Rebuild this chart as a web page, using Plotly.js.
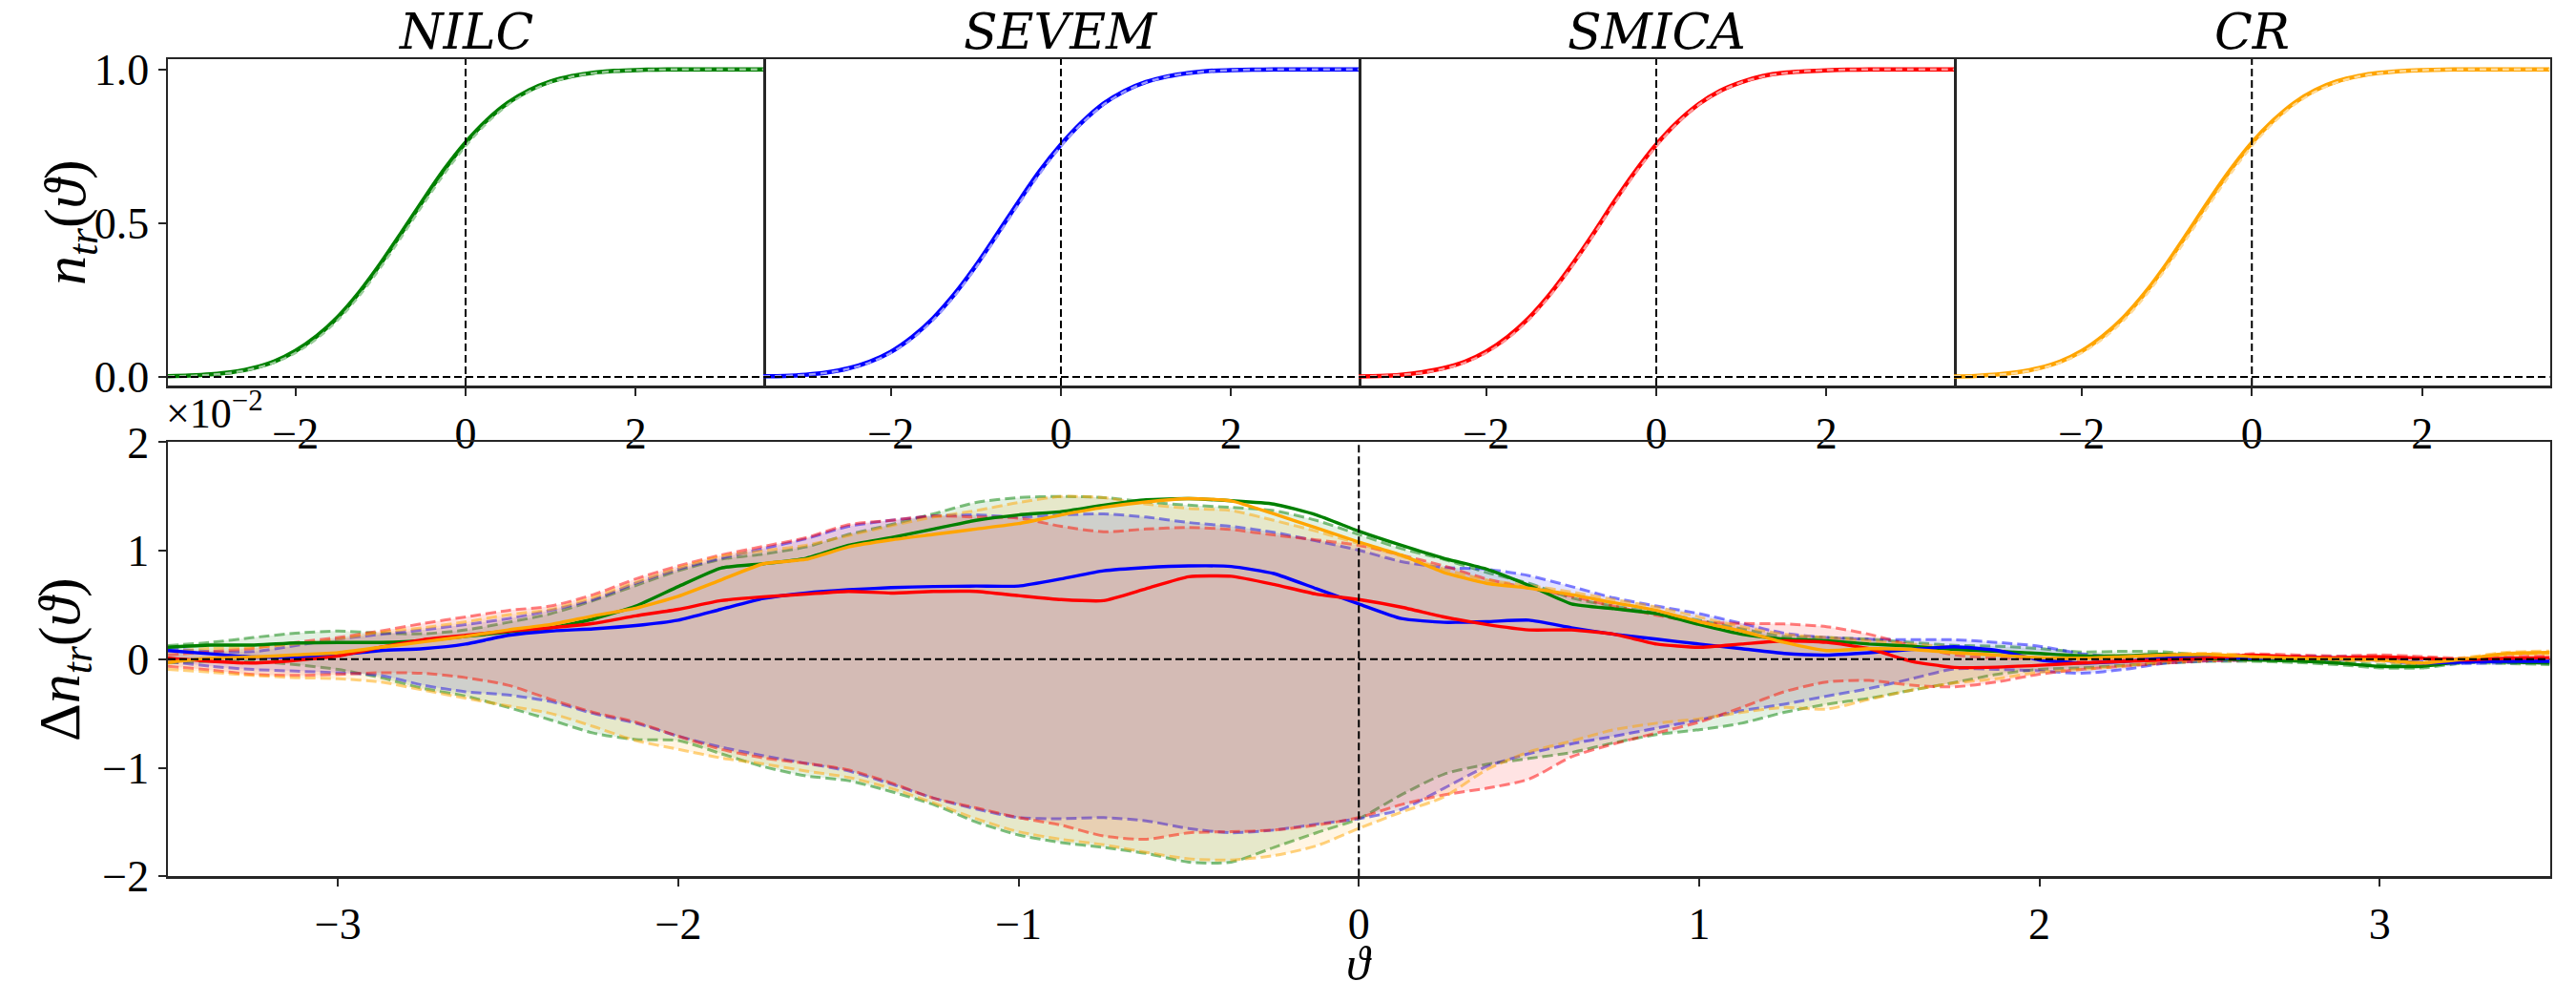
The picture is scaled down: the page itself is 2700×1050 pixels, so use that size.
<!DOCTYPE html>
<html>
<head>
<meta charset="utf-8">
<script src="https://cdn.plot.ly/plotly-3.0.1.min.js"></script>
<style>html,body{margin:0;padding:0;background:#fff;}#chart{width:2700px;height:1050px;}</style>
</head>
<body>
<div id="chart"></div>
<script>
// ---------- DATA ----------
const mapNames = ["NILC", "SEVEM", "SMICA", "CR"];
const mapColors = ["#008000", "#0000ff", "#ff0000", "#ffa500"];

// top panels: n_tr(theta)
const thetaTop = [-3.5,-3.25,-3,-2.75,-2.5,-2.25,-2,-1.75,-1.5,-1.25,-1,-0.75,-0.5,-0.25,0,0.25,0.5,0.75,1,1.25,1.5,1.75,2,2.25,2.5,2.75,3,3.25,3.5];
const ntrTheory = [0.0014,0.0032,0.0068,0.0137,0.026,0.0463,0.0778,0.1234,0.185,0.263,0.355,0.456,0.560,0.660,0.750,0.825,0.8846,0.9278,0.9574,0.9763,0.9876,0.9939,0.9972,0.9988,0.9995,0.9998,0.9999,1.0,1.0];
const ntrNILC  = [0.0025,0.0045,0.0084,0.0154,0.0285,0.0500,0.0845,0.1322,0.1955,0.2750,0.3683,0.4702,0.5742,0.6743,0.7618,0.8343,0.8914,0.9324,0.9606,0.9781,0.9890,0.9948,0.9977,0.9991,0.9996,0.9998,0.9999,1.0,1.0];
const ntrSEVEM = [0.0022,0.0034,0.0072,0.0147,0.0278,0.0491,0.0814,0.1290,0.1914,0.2697,0.3617,0.4642,0.5686,0.6686,0.7551,0.8284,0.8882,0.9301,0.9588,0.9768,0.9882,0.9950,0.9972,0.9988,0.9995,0.9998,0.9999,1.0,1.0];
const ntrSMICA = [0.0013,0.0028,0.0071,0.0155,0.0286,0.0496,0.0824,0.1292,0.1913,0.2693,0.3609,0.4614,0.5676,0.6669,0.7555,0.8289,0.8873,0.9301,0.9585,0.9780,0.9886,0.9932,0.9966,0.9986,0.9995,0.9998,0.9999,1.0,1.0];
const ntrCR    = [0.0011,0.0034,0.0074,0.0153,0.0286,0.0501,0.0836,0.1322,0.1954,0.2745,0.3675,0.4700,0.5748,0.6734,0.7608,0.8330,0.8912,0.9330,0.9609,0.9779,0.9886,0.9945,0.9974,0.9990,0.9999,0.9999,0.9999,1.0,1.0];

// bottom panel: Delta n_tr(theta) in units of 1e-2
const thetaBot = [-3.5,-3.375,-3.25,-3.125,-3,-2.875,-2.75,-2.625,-2.5,-2.375,-2.25,-2.125,-2,-1.875,-1.75,-1.625,-1.5,-1.375,-1.25,-1.125,-1,-0.875,-0.75,-0.625,-0.5,-0.375,-0.25,-0.125,0,0.125,0.25,0.375,0.5,0.625,0.75,0.875,1,1.125,1.25,1.375,1.5,1.625,1.75,1.875,2,2.125,2.25,2.375,2.5,2.625,2.75,2.875,3,3.125,3.25,3.375,3.5];

const dnNILC = [0.11,0.13,0.13,0.15,0.155,0.155,0.17,0.21,0.25,0.29,0.37,0.49,0.67,0.84,0.88,
  0.93,1.05,1.12,1.20,1.28,1.33,1.36,1.42,1.47,1.48,1.46,1.43,1.33,1.18,
  1.05,0.93,0.83,0.68,0.51,0.465,0.42,0.32,0.23,0.185,0.17,0.14,0.12,0.09,
  0.073,0.053,0.032,0.032,0.044,0.009,-0.006,-0.015,-0.035,-0.065,-0.065,-0.02,-0.026,-0.035];
const dnSEVEM = [0.08,0.05,0.02,0.02,0.04,0.08,0.097,0.14,0.22,0.26,0.28,0.31,0.36,0.46,0.56,
  0.61,0.64,0.66,0.67,0.674,0.674,0.74,0.815,0.845,0.86,0.855,0.79,0.65,0.51,
  0.375,0.34,0.346,0.36,0.29,0.23,0.185,0.14,0.097,0.053,0.038,0.06,0.09,0.115,
  0.082,-0.006,-0.035,-0.02,0.009,0.015,0.009,0.015,0.009,0.003,-0.035,-0.026,-0.02,-0.02];
const dnSMICA = [0.01,-0.02,-0.035,-0.01,0.03,0.11,0.18,0.22,0.26,0.29,0.33,0.40,0.46,0.54,0.575,
  0.60,0.625,0.61,0.625,0.625,0.586,0.55,0.54,0.65,0.76,0.765,0.69,0.60,0.55,
  0.48,0.39,0.32,0.27,0.27,0.23,0.14,0.11,0.14,0.17,0.155,0.097,-0.02,-0.075,
  -0.073,-0.056,-0.035,-0.02,-0.006,0.009,0.038,0.023,0.015,0.023,0.009,-0.006,0.009,0.015];
const dnCR = [-0.03,0.01,0.02,0.04,0.06,0.11,0.16,0.21,0.27,0.32,0.40,0.47,0.58,0.73,0.88,
  0.92,1.035,1.10,1.15,1.20,1.25,1.33,1.40,1.45,1.48,1.46,1.34,1.21,1.08,
  0.96,0.80,0.70,0.655,0.595,0.52,0.45,0.345,0.26,0.155,0.08,0.097,0.09,0.06,
  0.038,0.015,0.009,0.023,0.038,0.044,0.023,0.009,0.003,-0.006,-0.035,0.003,0.053,0.062];

const hiNILC = [0.126,0.155,0.20,0.24,0.26,0.24,0.235,0.27,0.34,0.42,0.54,0.68,0.815,0.92,0.97,
  1.035,1.15,1.24,1.34,1.445,1.49,1.50,1.49,1.45,1.42,1.40,1.37,1.28,1.15,
  1.02,0.92,0.80,0.70,0.565,0.49,0.43,0.36,0.28,0.21,0.20,0.185,0.155,0.128,
  0.12,0.097,0.067,0.073,0.067,0.03,0.01,0.0,-0.02,-0.05,-0.05,-0.005,-0.012,-0.02];
const loNILC = [-0.035,-0.02,-0.02,-0.05,-0.095,-0.17,-0.27,-0.34,-0.445,-0.56,-0.68,-0.74,-0.75,-0.87,-0.99,
  -1.075,-1.12,-1.22,-1.34,-1.50,-1.62,-1.69,-1.735,-1.79,-1.87,-1.87,-1.735,-1.60,-1.47,
  -1.25,-1.06,-0.97,-0.915,-0.86,-0.77,-0.695,-0.65,-0.59,-0.49,-0.415,-0.36,-0.285,-0.215,
  -0.14,-0.094,-0.08,-0.056,-0.035,-0.02,-0.02,-0.03,-0.05,-0.08,-0.08,-0.035,-0.04,-0.05];
const hiSEVEM = [0.10,0.07,0.07,0.126,0.185,0.23,0.27,0.32,0.375,0.45,0.55,0.70,0.83,0.93,1.02,
  1.11,1.225,1.28,1.32,1.33,1.31,1.33,1.34,1.31,1.26,1.225,1.17,1.09,1.005,
  0.90,0.845,0.83,0.77,0.67,0.565,0.49,0.42,0.33,0.24,0.20,0.185,0.18,0.18,
  0.155,0.12,0.05,0.02,0.025,0.03,0.025,0.03,0.025,0.018,-0.02,-0.01,-0.005,-0.005];
const loSEVEM = [-0.02,-0.065,-0.095,-0.11,-0.125,-0.15,-0.24,-0.30,-0.33,-0.39,-0.50,-0.59,-0.71,-0.81,-0.89,
  -0.96,-1.03,-1.15,-1.28,-1.38,-1.46,-1.47,-1.46,-1.49,-1.56,-1.60,-1.575,-1.52,-1.47,
  -1.385,-1.19,-0.99,-0.87,-0.78,-0.71,-0.635,-0.56,-0.475,-0.415,-0.34,-0.27,-0.18,-0.09,
  -0.094,-0.108,-0.13,-0.094,-0.035,-0.015,-0.006,0.0,-0.006,-0.012,-0.05,-0.04,-0.035,-0.035];
const hiSMICA = [0.04,0.07,0.10,0.155,0.20,0.26,0.33,0.39,0.45,0.49,0.595,0.74,0.86,0.96,1.04,
  1.12,1.24,1.28,1.32,1.31,1.30,1.225,1.175,1.20,1.215,1.195,1.145,1.10,1.05,
  0.96,0.86,0.74,0.655,0.58,0.49,0.405,0.345,0.33,0.325,0.30,0.23,0.126,0.04,
  0.01,0.01,-0.02,-0.005,0.01,0.025,0.05,0.04,0.03,0.04,0.025,0.01,0.025,0.03];
const loSMICA = [-0.065,-0.10,-0.14,-0.15,-0.14,-0.125,-0.13,-0.17,-0.24,-0.37,-0.49,-0.58,-0.71,-0.83,-0.91,
  -0.96,-1.02,-1.14,-1.28,-1.37,-1.46,-1.53,-1.63,-1.66,-1.60,-1.59,-1.575,-1.53,-1.46,
  -1.34,-1.25,-1.19,-1.105,-0.90,-0.78,-0.68,-0.58,-0.445,-0.30,-0.21,-0.196,-0.24,-0.255,
  -0.21,-0.138,-0.094,-0.064,-0.035,-0.015,-0.006,0.023,0.008,0.0,0.008,-0.006,-0.021,-0.006];
const hiCR = [0.07,0.10,0.11,0.14,0.185,0.25,0.29,0.345,0.41,0.46,0.57,0.71,0.84,0.95,1.0,
  1.05,1.14,1.23,1.31,1.37,1.445,1.50,1.49,1.43,1.39,1.37,1.28,1.18,1.065,
  0.95,0.83,0.73,0.68,0.62,0.55,0.48,0.39,0.30,0.23,0.20,0.17,0.14,0.11,
  0.08,0.053,0.032,0.035,0.05,0.055,0.035,0.02,0.015,0.005,-0.025,0.015,0.065,0.075];
const loCR = [-0.095,-0.12,-0.15,-0.17,-0.18,-0.21,-0.285,-0.36,-0.43,-0.50,-0.62,-0.75,-0.83,-0.91,-0.965,
  -1.03,-1.09,-1.19,-1.325,-1.47,-1.59,-1.66,-1.71,-1.78,-1.84,-1.85,-1.81,-1.72,-1.56,
  -1.41,-1.27,-1.02,-0.855,-0.755,-0.65,-0.59,-0.55,-0.49,-0.445,-0.46,-0.37,-0.285,-0.22,
  -0.18,-0.12,-0.094,-0.064,-0.02,-0.006,0.008,-0.006,-0.012,-0.02,-0.05,-0.012,0.038,0.047];

const xTickTop = [-2, 0, 2];
const yTickTop = [0, 0.5, 1];
const xTickBot = [-3, -2, -1, 0, 1, 2, 3];
const yTickBot = [-2, -1, 0, 1, 2];

// ---------- STYLE ----------
const SERIF = "'Liberation Serif', 'DejaVu Serif', serif";
const TITLE_SERIF = "'DejaVu Serif', 'Liberation Serif', serif";
const rgbs = {"#008000":[0,128,0], "#0000ff":[0,0,255], "#ff0000":[255,0,0], "#ffa500":[255,165,0]};
function rgba(hex, a){ const c = rgbs[hex]; return `rgba(${c[0]},${c[1]},${c[2]},${a})`; }
function pale(hex){ const c = rgbs[hex]; return `rgb(${Math.round(c[0]+(255-c[0])*0.6)},${Math.round(c[1]+(255-c[1])*0.6)},${Math.round(c[2]+(255-c[2])*0.6)})`; }
function fmtNeg(v){ return v < 0 ? "\u2212" + Math.abs(v) : String(v); }

const ntrObs = [ntrNILC, ntrSEVEM, ntrSMICA, ntrCR];
const dn = [dnNILC, dnSEVEM, dnSMICA, dnCR];
const hi = [hiNILC, hiSEVEM, hiSMICA, hiCR];
const lo = [loNILC, loSEVEM, loSMICA, loCR];

const traces = [];
for (let k = 0; k < 4; k++) {
  const xa = k === 0 ? "x" : "x" + (k + 1);
  const ya = k === 0 ? "y" : "y" + (k + 1);
  traces.push({x: thetaTop, y: ntrObs[k], xaxis: xa, yaxis: ya, type: "scatter", mode: "lines",
    name: mapNames[k], line: {color: mapColors[k], width: 4.5, shape: "spline", smoothing: 0.8}, showlegend: false, hoverinfo: "skip"});
  traces.push({x: thetaTop, y: ntrTheory, xaxis: xa, yaxis: ya, type: "scatter", mode: "lines",
    line: {color: pale(mapColors[k]), width: 2.5, dash: "7px,5px", shape: "spline", smoothing: 0.8}, showlegend: false, hoverinfo: "skip"});
}
// bottom panel envelopes
for (let k = 0; k < 4; k++) {
  traces.push({x: thetaBot, y: hi[k], xaxis: "x5", yaxis: "y5", type: "scatter", mode: "lines",
    line: {color: rgba(mapColors[k], 0.5), width: 3, dash: "11px,5px", shape: "spline", smoothing: 0.7},
    showlegend: false, hoverinfo: "skip"});
  traces.push({x: thetaBot, y: lo[k], xaxis: "x5", yaxis: "y5", type: "scatter", mode: "lines",
    line: {color: rgba(mapColors[k], 0.5), width: 3, dash: "11px,5px", shape: "spline", smoothing: 0.7},
    fill: "tonexty", fillcolor: rgba(mapColors[k], 0.11), showlegend: false, hoverinfo: "skip"});
}
for (let k = 0; k < 4; k++) {
  traces.push({x: thetaBot, y: dn[k], xaxis: "x5", yaxis: "y5", type: "scatter", mode: "lines",
    name: mapNames[k], line: {color: mapColors[k], width: 3.4, shape: "spline", smoothing: 0.5},
    showlegend: false, hoverinfo: "skip"});
}

function tickFont(){ return {family: SERIF, size: 46, color: "#000"}; }
function axisBase(extra){
  return Object.assign({showline: true, mirror: true, linecolor: "#262626", linewidth: 2.5,
    ticks: "outside", ticklen: 8, tickwidth: 2, tickcolor: "#262626",
    showgrid: false, zeroline: false, tickfont: tickFont(), fixedrange: true}, extra);
}

const px2x = p => p / 2700;
const py2y = p => 1 - p / 1050;
const topX = [[176, 800], [800, 1424], [1424, 2048], [2048, 2672.5]];
const topYDom = [py2y(404), py2y(62)];

const layout = {
  width: 2700, height: 1050, autosize: false,
  margin: {l: 0, r: 0, t: 0, b: 0, pad: 0},
  paper_bgcolor: "#fff", plot_bgcolor: "#fff",
  showlegend: false,
  font: {family: SERIF, size: 46, color: "#000"},
  shapes: [], annotations: []
};
for (let k = 0; k < 4; k++) {
  const xn = k === 0 ? "xaxis" : "xaxis" + (k + 1);
  const yn = k === 0 ? "yaxis" : "yaxis" + (k + 1);
  const yref = k === 0 ? "y" : "y" + (k + 1);
  const xref = k === 0 ? "x" : "x" + (k + 1);
  layout[xn] = axisBase({domain: [px2x(topX[k][0]), px2x(topX[k][1])], range: [-3.5, 3.5],
    anchor: yref, tickvals: xTickTop, ticktext: xTickTop.map(fmtNeg)});
  if (k === 0) {
    layout[yn] = axisBase({domain: topYDom, range: [-0.028, 1.033], anchor: xref,
      tickvals: yTickTop, ticktext: yTickTop.map(v => v.toFixed(1))});
  } else {
    // only the right-hand border; the left border is the previous panel's right border
    layout[yn] = axisBase({domain: topYDom, range: [-0.028, 1.033], anchor: xref, side: "right",
      mirror: false, ticks: "", showticklabels: false, tickvals: yTickTop});
  }
  layout.shapes.push({type: "line", xref: xref + " domain", yref: yref, x0: 0, x1: 1, y0: 0, y1: 0,
    line: {color: "#000", width: 2, dash: "8px,4px"}});
  layout.shapes.push({type: "line", xref: xref, yref: yref + " domain", x0: 0, x1: 0, y0: 0, y1: 1,
    line: {color: "#000", width: 2, dash: "8px,4px"}});
  layout.annotations.push({text: "<i>" + mapNames[k] + "</i>", xref: "paper", yref: "paper",
    x: px2x((topX[k][0] + topX[k][1]) / 2), y: py2y(33), xanchor: "center", yanchor: "middle",
    showarrow: false, font: {family: TITLE_SERIF, size: 52, color: "#000"}});
}
layout.xaxis5 = axisBase({domain: [px2x(176), px2x(2672.5)], range: [-3.5, 3.5], anchor: "y5",
  tickvals: xTickBot, ticktext: xTickBot.map(fmtNeg)});
layout.yaxis5 = axisBase({domain: [py2y(918.2), py2y(463.4)], range: [-2, 2], anchor: "x5",
  tickvals: yTickBot, ticktext: yTickBot.map(fmtNeg)});
layout.shapes.push({type: "line", xref: "x5 domain", yref: "y5", x0: 0, x1: 1, y0: 0, y1: 0,
  line: {color: "#000", width: 2, dash: "8px,4px"}});
layout.shapes.push({type: "line", xref: "x5", yref: "y5 domain", x0: 0, x1: 0, y0: 0, y1: 1,
  line: {color: "#000", width: 2, dash: "8px,4px"}});

// axis titles and offset text
layout.annotations.push({text: "<i>n</i><sub><i>tr</i></sub>(<i>\u03d1</i>)", xref: "paper", yref: "paper",
  x: px2x(72), y: py2y(233), xanchor: "center", yanchor: "middle", textangle: -90, showarrow: false,
  font: {family: SERIF, size: 62, color: "#000"}});
layout.annotations.push({text: "\u0394<i>n</i><sub><i>tr</i></sub>(<i>\u03d1</i>)", xref: "paper", yref: "paper",
  x: px2x(66), y: py2y(691), xanchor: "center", yanchor: "middle", textangle: -90, showarrow: false,
  font: {family: SERIF, size: 62, color: "#000"}});
layout.annotations.push({text: "<i>\u03d1</i>", xref: "paper", yref: "paper",
  x: px2x(1424), y: py2y(1010), xanchor: "center", yanchor: "middle", showarrow: false,
  font: {family: SERIF, size: 50, color: "#000"}});
layout.annotations.push({text: "\u00d710<sup>\u22122</sup>", xref: "paper", yref: "paper",
  x: px2x(172), y: py2y(460), xanchor: "left", yanchor: "bottom", showarrow: false,
  font: {family: SERIF, size: 44, color: "#000"}});

Plotly.newPlot("chart", traces, layout, {staticPlot: true, displayModeBar: false});
</script>
</body>
</html>
